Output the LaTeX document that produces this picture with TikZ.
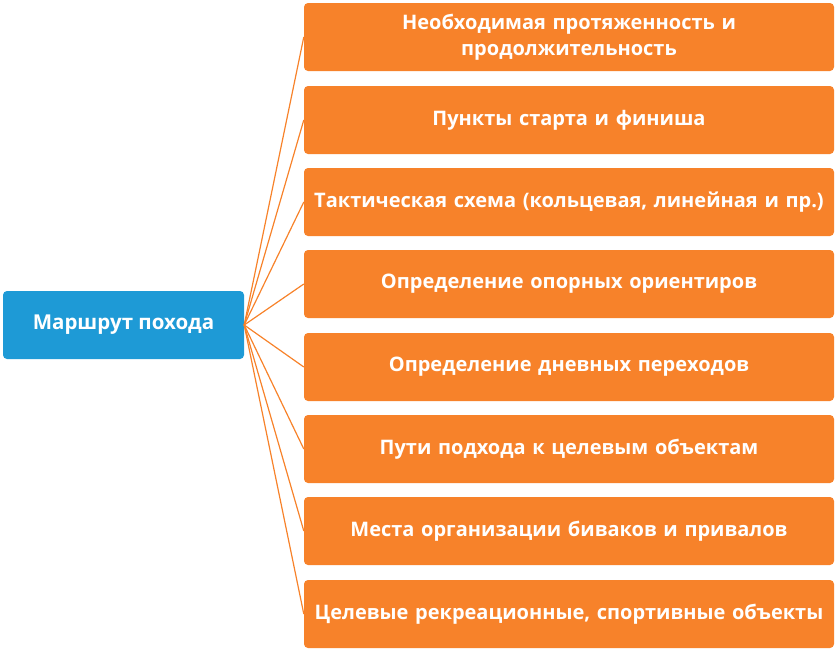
\documentclass[tikz,border=0pt]{standalone}
\usepackage{fontspec}
\setmainfont{Open Sans}
\usetikzlibrary{positioning}
\definecolor{boxorange}{HTML}{F7822A}
\definecolor{boxblue}{HTML}{1E9AD6}
\tikzset{
  item/.style={fill=boxorange, rounded corners=4pt, minimum width=530pt, minimum height=68pt,
    text width=520pt, align=center, text=white, font=\bfseries\fontsize{20pt}{26pt}\selectfont, inner sep=0pt},
  root/.style={fill=boxblue, rounded corners=4pt, minimum width=241pt, minimum height=68pt,
    text=white, font=\bfseries\fontsize{20.5pt}{26pt}\selectfont},
  link/.style={boxorange, line width=1.2pt}
}
\begin{document}
\begin{tikzpicture}[x=1pt,y=-1pt]
  \useasboundingbox (0,0) rectangle (837,651);
  \node[root] (route) at (123.5,325) {Маршрут похода};
  \foreach \n/\y/\t in {1/37/{Необходимая протяженность и\\продолжительность},
      2/120/{Пункты старта и финиша},
      3/202/{Тактическая схема (кольцевая, линейная и пр.)},
      4/284/{Определение опорных ориентиров},
      5/367/{Определение дневных переходов},
      6/449/{Пути подхода к целевым объектам},
      7/531/{Места организации биваков и привалов},
      8/614/{Целевые рекреационные, спортивные объекты}} {
    \node[item] (step\n) at (569,\y) {\t};
    \draw[link] (route.east) -- (step\n.west);
  }
\end{tikzpicture}
\end{document}
